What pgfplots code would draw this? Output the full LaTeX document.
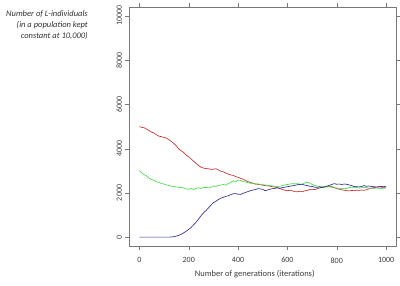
\documentclass[border=0pt]{standalone}
\usepackage{pgfplots}
\pgfplotsset{compat=1.18}
\usepackage{fontspec}
\setmainfont{Carlito}
\definecolor{rred}{RGB}{200,45,45}
\definecolor{rgreen}{RGB}{70,220,70}
\definecolor{rblue}{RGB}{45,45,145}
\definecolor{txt}{RGB}{60,60,60}
\definecolor{ax}{RGB}{120,120,120}
\begin{document}
\begin{tikzpicture}[x=1pt,y=1pt]
\useasboundingbox (0,0) rectangle (400,285);
\node[anchor=north east, align=right, font=\fontsize{8.5}{11}\selectfont\itshape, text=txt!80!black, inner sep=0pt] at (88,275)
 {Number of L-individuals\\(in a population kept\\constant at 10,000)};
\begin{axis}[
 at={(129.5pt,39pt)}, anchor=south west,
 scale only axis, width=266.5pt, height=239pt,
 xmin=-40, xmax=1040, ymin=-400, ymax=10400,
 xtick={0,200,...,1000}, ytick={0,2000,...,10000},
 scaled ticks=false,
 tick align=outside, major tick length=4pt,
 axis line style={ax}, tick style={ax},
 /pgf/number format/assume math mode=true,
 /pgf/number format/set thousands separator={},
 ticklabel style={font=\fontsize{8}{9}\selectfont, text=txt},
 xticklabel style={yshift=-4pt},
 yticklabel style={rotate=90, anchor=south},
 xlabel={Number of generations (iterations)},
 xlabel style={font=\fontsize{8.5}{10}\selectfont, text=txt, at={(axis description cs:0.47,0)}, anchor=north, yshift=-21pt},
 every axis plot/.append style={line width=0.65pt},
]
\addplot[rred] coordinates {
(0,4990)(10,4960)(20,4940)(30,4880)(40,4810)(50,4740)(60,4700)(70,4620)(80,4560)(90,4540)
(100,4500)(110,4480)(120,4400)(130,4320)(140,4230)(150,4120)(160,3980)(170,3900)(180,3820)(190,3710)
(200,3620)(210,3530)(220,3430)(230,3330)(240,3240)(250,3160)(260,3120)(270,3100)(280,3090)(290,3060)
(300,3070)(310,3090)(320,3040)(330,2980)(340,2950)(350,2900)(360,2850)(370,2810)(380,2790)(390,2740)
(400,2700)(410,2660)(420,2620)(430,2560)(440,2510)(450,2470)(460,2440)(470,2400)(480,2390)(490,2370)
(500,2350)(510,2330)(520,2320)(530,2300)(540,2280)(550,2260)(560,2230)(570,2190)(580,2150)(590,2120)
(600,2100)(610,2120)(620,2090)(630,2060)(640,2050)(650,2080)(660,2050)(670,2090)(680,2110)(690,2150)
(700,2170)(710,2140)(720,2190)(730,2220)(740,2250)(750,2280)(760,2270)(770,2300)(780,2280)(790,2240)
(800,2190)(810,2170)(820,2140)(830,2120)(840,2100)(850,2090)(860,2110)(870,2100)(880,2120)(890,2110)
(900,2130)(910,2120)(920,2140)(930,2180)(940,2210)(950,2240)(960,2260)(970,2280)(980,2260)(990,2250)(1000,2260)};
\addplot[rgreen] coordinates {
(0,3000)(10,2900)(20,2820)(30,2760)(40,2660)(50,2600)(60,2560)(70,2500)(80,2470)(90,2420)
(100,2400)(110,2360)(120,2330)(130,2300)(140,2290)(150,2270)(160,2250)(170,2240)(180,2230)(190,2180)
(200,2160)(210,2200)(220,2150)(230,2210)(240,2230)(250,2200)(260,2250)(270,2240)(280,2260)(290,2250)
(300,2310)(310,2290)(320,2340)(330,2350)(340,2380)(350,2350)(360,2420)(370,2470)(380,2550)(390,2500)
(400,2580)(410,2560)(420,2520)(430,2490)(440,2460)(450,2440)(460,2420)(470,2400)(480,2410)(490,2380)
(500,2370)(510,2360)(520,2340)(530,2330)(540,2310)(550,2300)(560,2290)(570,2300)(580,2330)(590,2360)
(600,2380)(610,2400)(620,2420)(630,2410)(640,2420)(650,2400)(660,2390)(670,2450)(680,2480)(690,2450)
(700,2380)(710,2340)(720,2310)(730,2290)(740,2280)(750,2300)(760,2310)(770,2280)(780,2250)(790,2230)
(800,2220)(810,2200)(820,2210)(830,2190)(840,2200)(850,2240)(860,2250)(870,2260)(880,2240)(890,2220)
(900,2230)(910,2250)(920,2240)(930,2220)(940,2210)(950,2200)(960,2220)(970,2210)(980,2200)(990,2210)(1000,2220)};
\addplot[rblue] coordinates {
(0,0)(10,0)(20,0)(30,0)(40,0)(50,0)(60,0)(70,0)(80,0)(90,0)
(100,0)(110,0)(120,0)(130,10)(140,20)(150,50)(160,80)(170,130)(180,200)(190,270)
(200,350)(210,440)(220,560)(230,680)(240,820)(250,970)(260,1100)(270,1200)(280,1320)(290,1450)
(300,1560)(310,1620)(320,1700)(330,1760)(340,1800)(350,1840)(360,1870)(370,1920)(380,1960)(390,1970)
(400,1940)(410,1930)(420,1980)(430,2020)(440,2060)(450,2100)(460,2130)(470,2150)(480,2190)(490,2180)
(500,2160)(510,2100)(520,2130)(530,2170)(540,2190)(550,2210)(560,2230)(570,2210)(580,2240)(590,2260)
(600,2280)(610,2300)(620,2320)(630,2340)(640,2370)(650,2380)(660,2390)(670,2350)(680,2330)(690,2300)
(700,2290)(710,2260)(720,2250)(730,2270)(740,2240)(750,2260)(760,2300)(770,2340)(780,2380)(790,2420)
(800,2390)(810,2400)(820,2380)(830,2400)(840,2390)(850,2360)(860,2330)(870,2290)(880,2280)(890,2270)
(900,2290)(910,2330)(920,2300)(930,2310)(940,2290)(950,2280)(960,2260)(970,2270)(980,2290)(990,2280)(1000,2300)};
\end{axis}
\end{tikzpicture}
\end{document}
